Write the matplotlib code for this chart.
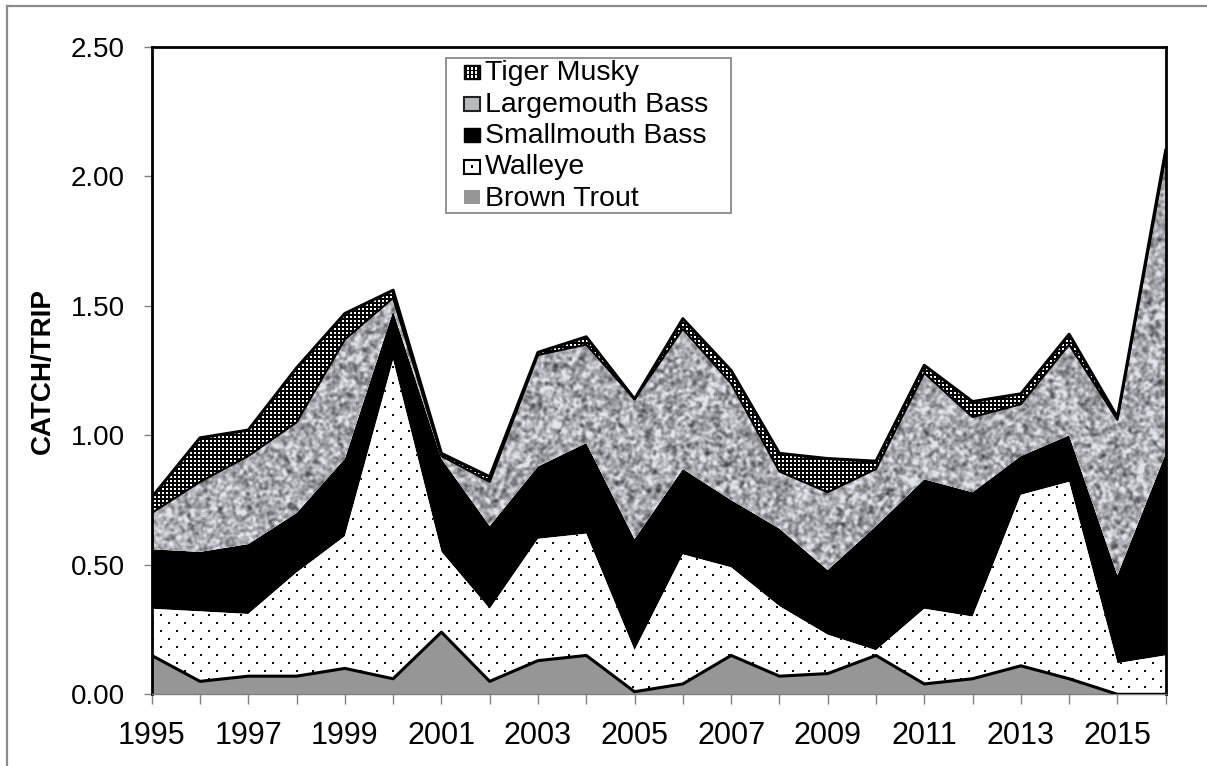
import numpy as np
import matplotlib
matplotlib.use("Agg")
import matplotlib.pyplot as plt
from matplotlib.patches import Rectangle
from matplotlib.lines import Line2D

plt.rcParams['font.family'] = ['Liberation Sans', 'DejaVu Sans']

# ---------------- data ----------------
years = list(range(1995, 2017))
brown_trout = [0.15, 0.05, 0.07, 0.07, 0.10, 0.06, 0.24, 0.05, 0.13, 0.15, 0.01,
               0.04, 0.15, 0.07, 0.08, 0.15, 0.04, 0.06, 0.11, 0.06, 0.00, 0.00]
walleye = [0.18, 0.27, 0.24, 0.40, 0.51, 1.23, 0.31, 0.28, 0.47, 0.47, 0.16,
           0.50, 0.34, 0.27, 0.15, 0.02, 0.29, 0.24, 0.66, 0.76, 0.12, 0.15]
smallmouth_bass = [0.23, 0.23, 0.27, 0.23, 0.30, 0.19, 0.36, 0.32, 0.28, 0.35, 0.43,
                   0.33, 0.26, 0.30, 0.25, 0.48, 0.50, 0.48, 0.15, 0.18, 0.34, 0.78]
largemouth_bass = [0.14, 0.27, 0.34, 0.35, 0.46, 0.05, 0.01, 0.17, 0.43, 0.38, 0.54,
                   0.54, 0.45, 0.22, 0.30, 0.22, 0.41, 0.29, 0.20, 0.35, 0.60, 1.15]
tiger_musky = [0.06, 0.17, 0.10, 0.21, 0.10, 0.03, 0.01, 0.02, 0.01, 0.03, 0.00,
               0.04, 0.05, 0.07, 0.13, 0.03, 0.03, 0.06, 0.04, 0.04, 0.01, 0.02]
series_names = ["Brown Trout", "Walleye", "Smallmouth Bass", "Largemouth Bass", "Tiger Musky"]
y_ticks = [0.0, 0.5, 1.0, 1.5, 2.0, 2.5]
y_label = "CATCH/TRIP"

# ---------------- figure ----------------
W_PX, H_PX = 1207, 766
fig = plt.figure(figsize=(W_PX / 100, H_PX / 100), dpi=100)
ax_l, ax_r, ax_t, ax_b = 151.7, 1165.7, 46.7, 694.3
ax = fig.add_axes([ax_l / W_PX, 1 - ax_b / H_PX, (ax_r - ax_l) / W_PX, (ax_b - ax_t) / H_PX])

polys = ax.stackplot(years, brown_trout, walleye, smallmouth_bass, largemouth_bass, tiger_musky,
                     colors=['#969696', 'white', 'black', 'white', 'black'], linewidth=0)

# ---------------- textures ----------------
TH, TW = int(round(ax_b - ax_t)), int(round(ax_r - ax_l))
yy, xx = np.mgrid[0:TH, 0:TW].astype(float)


def box(a, r):
    k = 2 * r + 1
    p = np.pad(a, r, mode='wrap')
    c = np.cumsum(np.cumsum(p, 0), 1)
    c = np.pad(c, ((1, 0), (1, 0)))
    return (c[k:, k:] - c[:-k, k:] - c[k:, :-k] + c[:-k, :-k]) / k ** 2


h = np.sin(xx * 12.9898 + yy * 78.233) * 43758.5453
h = h - np.floor(h)
n1 = box(box(h, 1), 1)
n2 = box(box(h, 2), 2)
z1 = (n1 - n1.mean()) / n1.std()
z2 = (n2 - n2.mean()) / n2.std()
g = np.clip(0.68 + 0.095 * z1 + 0.025 * z2, 0.28, 0.90)
granite = np.clip(np.dstack([g * 0.98, g * 0.99, g * 1.02]), 0, 1)

musky = np.zeros((TH, TW))
musky[((xx % 4) >= 2) & ((yy % 4) >= 2)] = 1.0
musky_rgb = np.dstack([musky] * 3)

dots = np.ones((TH, TW))
row = (yy // 8).astype(int)
off = np.where(row % 2 == 1, 8, 0)
dots[((yy % 8) < 2) & (((xx - off) % 16) < 2)] = 0.0
dots_rgb = np.dstack([dots] * 3)

ext = (years[0], years[-1], 0, y_ticks[-1])
for idx, tex in [(1, dots_rgb), (3, granite), (4, musky_rgb)]:
    im = ax.imshow(tex, extent=ext, aspect='auto', interpolation='nearest', zorder=1.5)
    im.set_clip_path(polys[idx].get_paths()[0], transform=ax.transData)

# ---------------- outlines ----------------
cum = np.cumsum(np.array([brown_trout, walleye, smallmouth_bass, largemouth_bass, tiger_musky]), axis=0)
ax.plot(years, cum[0], color='black', lw=2.2, zorder=3)
ax.plot(years, cum[3], color='black', lw=1.5, zorder=3)
ax.plot(years, cum[4], color='black', lw=2.2, zorder=3)

ax.set_xlim(years[0], years[-1])
ax.set_ylim(y_ticks[0], y_ticks[-1])

ax.set_xticks(years)
ax.set_xticklabels([str(y) if (y - years[0]) % 2 == 0 else '' for y in years], fontsize=22)
ax.set_yticks(y_ticks)
ax.set_yticklabels([f"{v:.2f}" for v in y_ticks], fontsize=20)
ax.tick_params(axis='x', length=7, width=1, color='#808080', pad=12)
ax.tick_params(axis='y', length=6, width=1, color='#808080', pad=13.5)

for s in ['left', 'top', 'right']:
    ax.spines[s].set_linewidth(2)
    ax.spines[s].set_color('black')
ax.spines['bottom'].set_linewidth(1)
ax.spines['bottom'].set_color('#808080')

fig.text(43.3 / W_PX, 1 - 370.5 / H_PX, y_label, rotation=90, fontsize=20, fontweight='bold',
         ha='center', va='center')

# ---------------- legend (manual) ----------------
def fx(px):
    return px / W_PX


def fy(py):
    return 1 - py / H_PX


def prect(x0, y0, x1, y1, **kw):
    """rectangle given in pixel coords (y from top): (x0,y0) top-left, (x1,y1) bottom-right"""
    return Rectangle((fx(x0), fy(y1)), fx(x1) - fx(x0), fy(y0) - fy(y1),
                     transform=fig.transFigure, **kw)


lx0, lx1, ly0, ly1 = 445.5, 730.7, 58.3, 212.7
fig.add_artist(prect(lx0, ly0, lx1, ly1, facecolor='white', edgecolor='#808080', lw=1.2, zorder=10))
baselines = [80, 111.5, 143, 174.5, 205.5]
labels_order = series_names[::-1]
sq_w, sq_h = 16, 14
for lab, base in zip(labels_order, baselines):
    sx0, sy1 = 463.5, base - 1
    sx1, sy0 = sx0 + sq_w, sy1 - sq_h
    if lab == "Tiger Musky":
        fig.add_artist(prect(sx0, sy0, sx1, sy1, facecolor='black', edgecolor='black', lw=1, zorder=11))
        for gx in range(3):
            for gy in range(3):
                x0 = sx0 + 3 + gx * 4
                y0 = sy0 + 2.5 + gy * 4
                fig.add_artist(prect(x0, y0, x0 + 2, y0 + 2, facecolor='white', lw=0, zorder=12))
    elif lab == "Largemouth Bass":
        fig.add_artist(prect(sx0, sy0, sx1, sy1, facecolor='#b8babc', edgecolor='#222222', lw=1.5, zorder=11))
    elif lab == "Smallmouth Bass":
        fig.add_artist(prect(sx0, sy0, sx1, sy1, facecolor='black', edgecolor='black', lw=1, zorder=11))
    elif lab == "Walleye":
        fig.add_artist(prect(sx0, sy0, sx1, sy1, facecolor='white', edgecolor='black', lw=1.5, zorder=11))
        fig.add_artist(prect(sx0 + 7, sy0 + 6, sx0 + 9, sy0 + 8, facecolor='black', lw=0, zorder=12))
    else:
        fig.add_artist(prect(sx0, sy0, sx1, sy1, facecolor='#969696', edgecolor='none', lw=0, zorder=11))
    fig.text(fx(485), fy(base), lab, fontsize=20.5, ha='left', va='baseline', zorder=12)

# ---------------- outer border (top & left) ----------------
fig.add_artist(Line2D([fx(7), 1], [fy(6), fy(6)], transform=fig.transFigure, color='#8c8c8c', lw=1.6))
fig.add_artist(Line2D([fx(7), fx(7)], [0, fy(6)], transform=fig.transFigure, color='#8c8c8c', lw=1.6))

fig.savefig("out.png", dpi=100)
